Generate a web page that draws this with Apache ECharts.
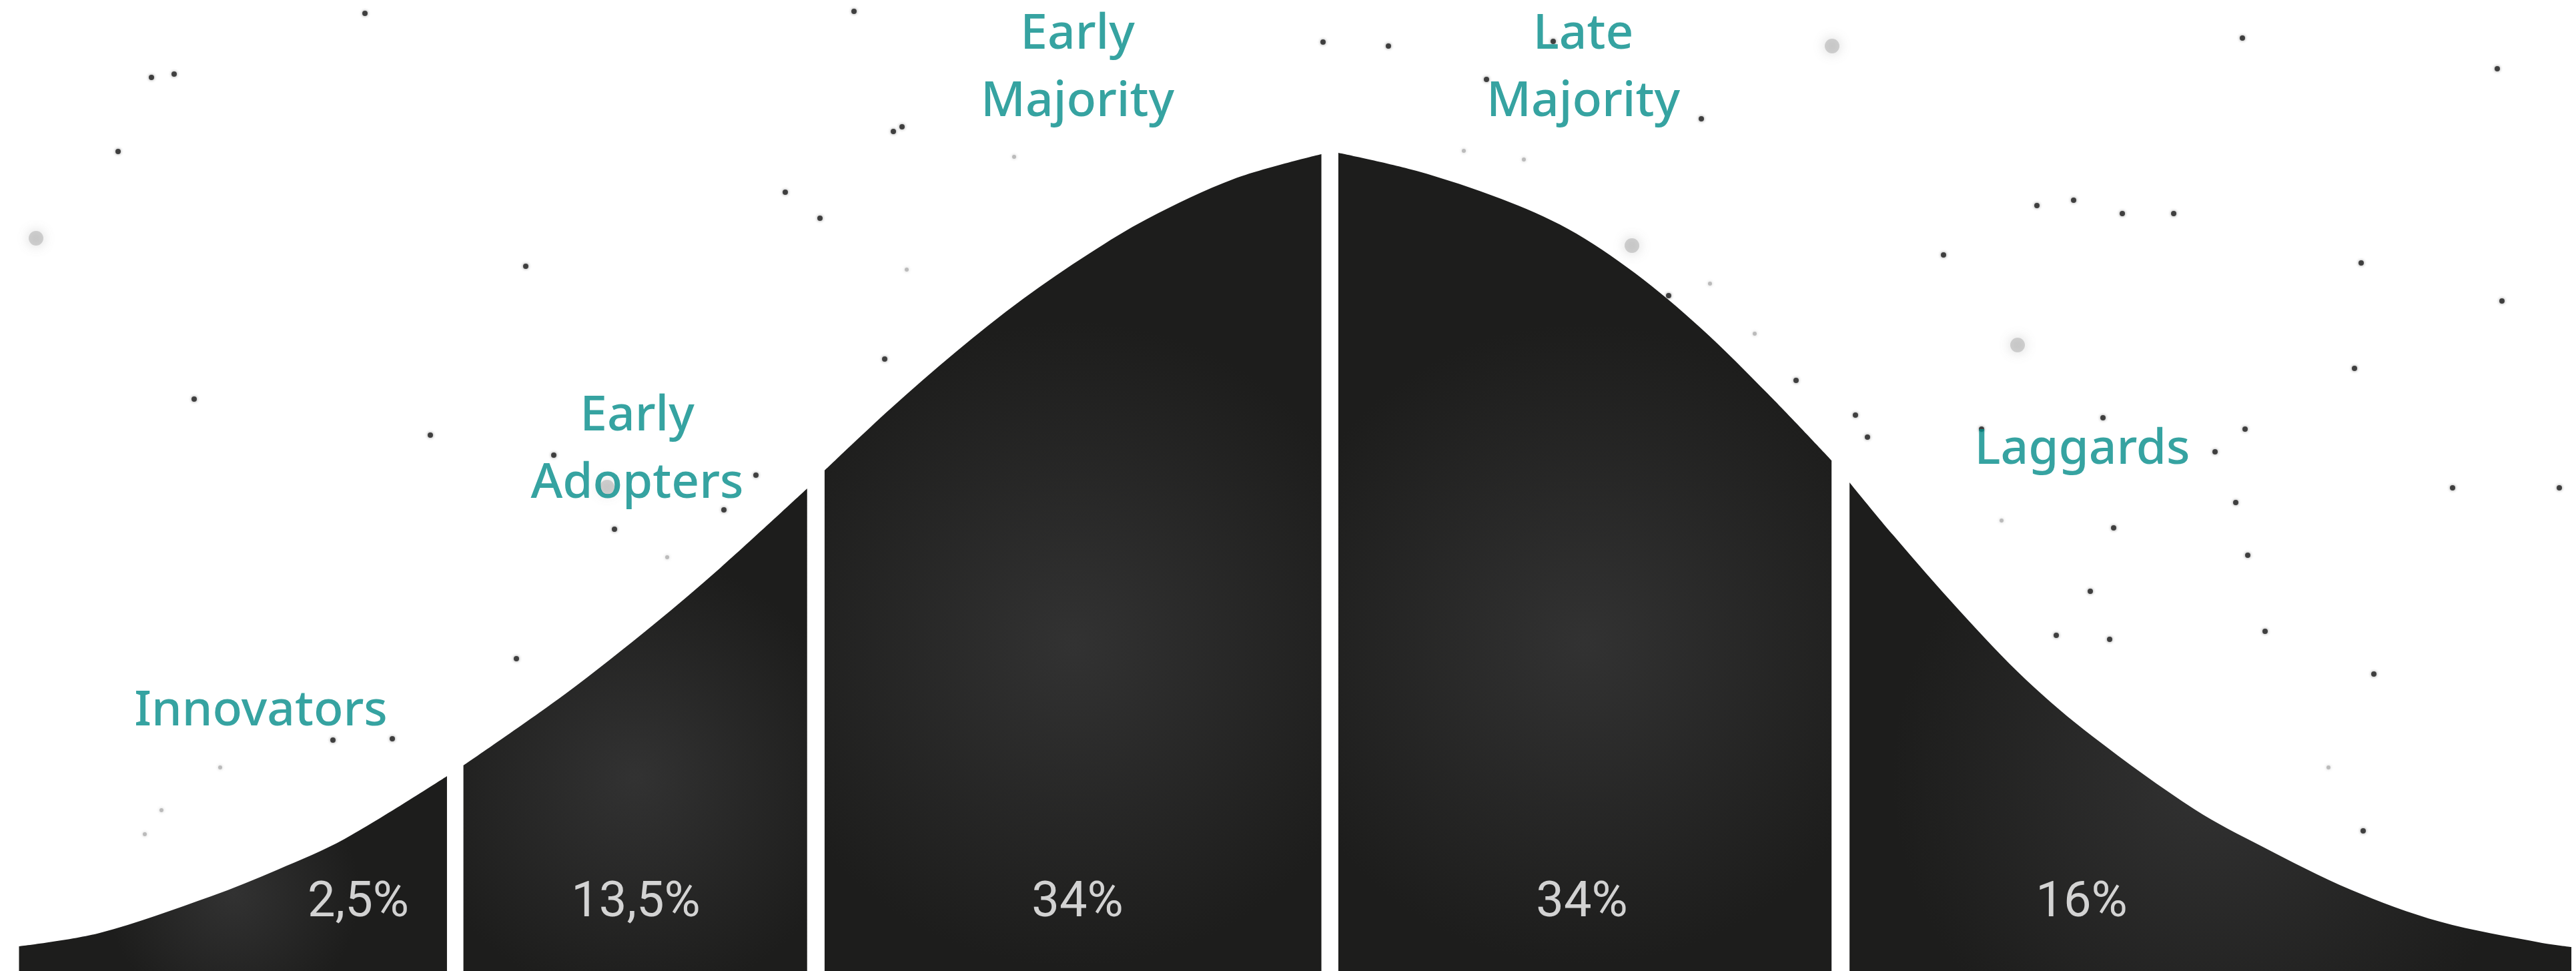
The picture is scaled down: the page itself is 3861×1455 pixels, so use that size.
<!DOCTYPE html>
<html>
<head>
<meta charset="utf-8">
<script src="https://cdn.jsdelivr.net/npm/echarts@6/dist/echarts.min.js"></script>
<style>
html,body{margin:0;padding:0;background:#ffffff;overflow:hidden}
#chart{width:3861px;height:1455px}
</style>
</head>
<body>
<div id="chart"></div>
<script>
// ---------------- DATA ----------------
const segmentLabels = ['Innovators', 'Early\nAdopters', 'Early\nMajority', 'Late\nMajority', 'Laggards'];
const shares = [2.5, 13.5, 34, 34, 16];

// Curve outline of each segment: [position in standard deviations, height as % of peak]
const innovatorsCurve = [[-2.551, 3.01], [-2.394, 4.64], [-2.177, 9.11], [-2.047, 12.37], [-1.917, 16.11], [-1.718, 23.76]];
const earlyAdoptersCurve = [[-1.686, 25.06], [-1.488, 33.77], [-1.316, 42.23], [-1.186, 49.15], [-1.017, 58.83]];
const earlyMajorityCurve = [[-0.983, 61.02], [-0.857, 68.43], [-0.727, 75.51], [-0.597, 81.94], [-0.468, 87.47], [-0.355, 91.70], [-0.186, 96.58], [-0.016, 99.59]];
const lateMajorityCurve = [[0.017, 99.76], [0.169, 97.56], [0.334, 94.14], [0.464, 90.48], [0.594, 85.11], [0.723, 78.36], [0.853, 70.38], [0.977, 62.25]];
const laggardsCurve = [[1.012, 59.56], [1.096, 53.21], [1.226, 43.94], [1.356, 35.48], [1.486, 28.56], [1.684, 19.69], [1.814, 15.22], [1.987, 9.93], [2.161, 6.02], [2.360, 3.42], [2.417, 2.93]];

// Decorative star field (image coordinates)
const darkStars = [[547,20],[227,116],[261,111],[177,227],[788,399],[291,598],[588,1107],[499,1109],[830,682],[1133,712],[1085,764],[921,793],[774,987],[1229,327],[1326,538],[2501,443],[2692,570],[3133,886],[3082,952],[3162,958],[3168,791],[3542,1245],[2970,643],[3152,626],[3320,677],[3365,643],[2781,622],[2799,655],[3369,832],[3351,753],[3395,946],[1983,63],[2328,62],[2550,178],[2228,119],[1339,197],[1177,288],[645,652],[3053,308],[3108,300],[3181,320],[3258,320],[3539,394],[3750,451],[3529,552],[3676,731],[3836,731],[3558,1010],[3361,57],[3743,103],[2913,382],[1352,190],[1280,17],[2081,69]];
const faintStars = [[242,1214],[217,1250],[1359,404],[2563,425],[2194,226],[2284,239],[330,1150],[1000,835],[1520,235],[2630,500],[3000,780],[3490,1150]];
const glowStars = [[54,357],[2446,368],[2746,69],[3024,517],[910,730]];

// ---------------- LAYOUT / STYLE ----------------
const W = 3861, H = 1455;
const xExtent = [-2.588, 2.426];
const yExtent = [0, 118.39];
const labelAnchorX = [391, 955, 1615, 2373, 3121];
const labelAnchorY = [1066, 675, 103, 103, 674];
const shareAnchorX = [537, 953, 1615, 2371, 3120];
const shareAnchorY = 1354;
const teal = '#048c89';
const fontFamily = '"Noto Sans", "Open Sans", sans-serif';

const curves = [innovatorsCurve, earlyAdoptersCurve, earlyMajorityCurve, lateMajorityCurve, laggardsCurve];

const chart = echarts.init(document.getElementById('chart'), null, {renderer: 'canvas', width: W, height: H});

const areaSeries = curves.map((c, i) => ({
  type: 'line',
  name: segmentLabels[i].replace('\n', ' '),
  xAxisIndex: 0, yAxisIndex: 0,
  data: c,
  smooth: 0.33,
  showSymbol: false,
  symbol: 'none',
  lineStyle: {width: 0},
  areaStyle: {
    origin: 'start',
    opacity: 1,
    color: {
      type: 'radial', x: 0.5, y: 0.6, r: 0.65,
      colorStops: [{offset: 0, color: '#323232'}, {offset: 1, color: '#1d1d1c'}]
    }
  },
  silent: true,
  z: 3
}));

const fmtShare = v => String(v).replace('.', ',') + '%';

const option = {
  backgroundColor: '#ffffff',
  animation: false,
  grid: [
    {left: 0, right: 0, top: 0, bottom: 0},
    {left: 0, right: 0, top: 0, bottom: 0}
  ],
  xAxis: [
    {type: 'value', gridIndex: 0, min: xExtent[0], max: xExtent[1], show: false},
    {type: 'value', gridIndex: 1, min: 0, max: W, show: false}
  ],
  yAxis: [
    {type: 'value', gridIndex: 0, min: yExtent[0], max: yExtent[1], show: false},
    {type: 'value', gridIndex: 1, min: 0, max: H, inverse: true, show: false}
  ],
  series: [
    {
      type: 'scatter', xAxisIndex: 1, yAxisIndex: 1, silent: true, z: 1,
      data: glowStars, symbolSize: 22,
      itemStyle: {color: 'rgba(140,140,140,0.45)', shadowBlur: 18, shadowColor: 'rgba(110,110,110,0.8)'}
    },
    {
      type: 'scatter', xAxisIndex: 1, yAxisIndex: 1, silent: true, z: 1,
      data: faintStars, symbolSize: 6,
      itemStyle: {color: '#b0b0b0', shadowBlur: 4, shadowColor: 'rgba(150,150,150,0.6)'}
    },
    {
      type: 'scatter', xAxisIndex: 1, yAxisIndex: 1, silent: true, z: 1,
      data: darkStars, symbolSize: 8,
      itemStyle: {color: '#2a2a2a', opacity: 0.85, shadowBlur: 4, shadowColor: 'rgba(0,0,0,0.5)'}
    },
    ...areaSeries,
    {
      type: 'scatter', xAxisIndex: 1, yAxisIndex: 1, silent: true, z: 5,
      symbolSize: 1, itemStyle: {color: 'rgba(0,0,0,0)'},
      data: segmentLabels.map((t, i) => ({value: [labelAnchorX[i], labelAnchorY[i]], name: t})),
      label: {
        show: true, position: 'inside', formatter: p => p.name,
        color: teal, fontSize: 73, fontWeight: 500, lineHeight: 101, fontFamily: fontFamily,
        align: 'center', verticalAlign: 'middle'
      }
    },
    {
      type: 'scatter', xAxisIndex: 1, yAxisIndex: 1, silent: true, z: 5,
      symbolSize: 1, itemStyle: {color: 'rgba(0,0,0,0)'},
      data: shares.map((v, i) => ({value: [shareAnchorX[i], shareAnchorY], name: fmtShare(v)})),
      label: {
        show: true, position: 'inside', formatter: p => p.name,
        color: '#ffffff', fontSize: 74, fontWeight: 'normal', fontFamily: 'Roboto, "Liberation Sans", sans-serif',
        align: 'center', verticalAlign: 'middle'
      }
    }
  ]
};
chart.setOption(option);
</script>
</body>
</html>
